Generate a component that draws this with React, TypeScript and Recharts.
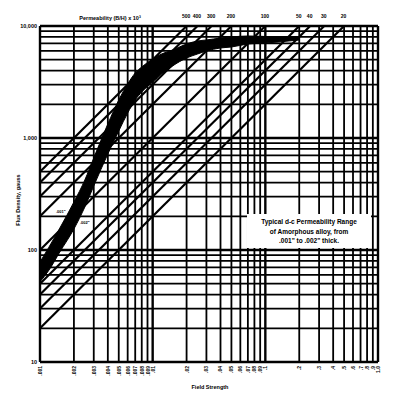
import React from "react";
import { Area, ComposedChart, LabelList, ReferenceLine, Scatter, XAxis, YAxis } from "recharts";

// d-c permeability band of the alloy (field strength in oersteds, flux in gauss)
const fieldStrength = [0.001, 0.0012, 0.0015, 0.002, 0.0025, 0.003, 0.004, 0.005, 0.006, 0.007, 0.008, 0.01, 0.012, 0.015, 0.02, 0.025, 0.03, 0.04, 0.05, 0.07, 0.1, 0.13, 0.2];
const fluxLow = [52, 66, 96, 154, 242, 373, 720, 1155, 1672, 2184, 2575, 3162, 3728, 4395, 5180, 5623, 5980, 6366, 6494, 6907, 7047, 7197, 7500];
const fluxHigh = [78, 106, 157, 268, 422, 663, 1334, 2184, 3034, 3805, 4305, 5075, 5623, 6105, 6907, 7345, 7499, 7815, 7980, 8143, 8062, 7980, 7980];

// constant permeability lines, B/H x 10^3
const permeability = [500, 400, 300, 200, 100, 50, 40, 30, 20];

const gridH = [
  0.001, 0.002, 0.003, 0.004, 0.005, 0.006, 0.007, 0.008, 0.009,
  0.01, 0.02, 0.03, 0.04, 0.05, 0.06, 0.07, 0.08, 0.09,
  0.1, 0.2, 0.3, 0.4, 0.5, 0.6, 0.7, 0.8, 0.9, 1,
];
const hLabels = [
  ".001", ".002", ".003", ".004", ".005", ".006", ".007", ".008", ".009",
  ".01", ".02", ".03", ".04", ".05", ".06", ".07", ".08", ".09",
  ".1", ".2", ".3", ".4", ".5", ".6", ".7", ".8", ".9", "1.0",
];
const gridB = [
  10, 20, 30, 40, 50, 60, 70, 80, 90,
  100, 200, 300, 400, 500, 600, 700, 800, 900,
  1000, 2000, 3000, 4000, 5000, 6000, 7000, 8000, 9000, 10000,
];
const decadesH = [0.001, 0.01, 0.1, 1];
const decadesB = [10, 100, 1000, 10000];
const bLabels = ["10", "100", "1,000", "10,000"];

const FONT = '"Liberation Sans", Arial, sans-serif';

const bandData = fieldStrength.map((h, i) => ({ h, band: [fluxLow[i], fluxHigh[i]] }));
const topLabels = permeability.map((mu) => ({ h: 10 / mu, b: 10000, label: String(mu) }));

function XTick(props: any) {
  const { x, payload } = props;
  const i = gridH.indexOf(payload.value);
  return (
    <text
      x={x + 2}
      y={366}
      transform={`rotate(-90 ${x + 2} 366)`}
      textAnchor="end"
      fontSize={5}
      fontWeight={700}
      fontFamily={FONT}
      fill="#000"
    >
      {hLabels[i]}
    </text>
  );
}

function YTick(props: any) {
  const { y, payload } = props;
  const i = decadesB.indexOf(payload.value);
  if (i < 0) return <g />;
  return (
    <text x={37} y={y + 2} textAnchor="end" fontSize={5.5} fontWeight={700} fontFamily={FONT} fill="#000">
      {bLabels[i]}
    </text>
  );
}

function TopLabel(props: any) {
  const { x, y, value } = props;
  return (
    <text x={x + 4} y={y - 3} textAnchor="middle" fontSize={5} fontWeight={700} fontFamily={FONT} fill="#000">
      {value}
    </text>
  );
}

export default function App() {
  return (
    <div style={{ position: "absolute", left: 0, top: 0, width: 400, height: 401, background: "#fff", fontFamily: FONT }}>
      <ComposedChart width={400} height={401} data={bandData} margin={{ top: 26, right: 22, bottom: 0, left: 0 }}>
        <XAxis
          dataKey="h"
          type="number"
          scale="log"
          domain={[0.001, 1]}
          ticks={gridH}
          interval={0}
          tick={<XTick />}
          tickLine={false}
          axisLine={false}
          height={39}
          allowDataOverflow
        />
        <YAxis
          type="number"
          scale="log"
          domain={[10, 10000]}
          ticks={gridB}
          interval={0}
          tick={<YTick />}
          tickLine={false}
          axisLine={false}
          width={40}
          allowDataOverflow
        />
        {gridH.map((h) => (
          <ReferenceLine key={"gx" + h} x={h} stroke="#000" strokeWidth={decadesH.includes(h) ? 2.4 : 1.8} />
        ))}
        {gridB.map((b) => (
          <ReferenceLine key={"gy" + b} y={b} stroke="#000" strokeWidth={decadesB.includes(b) ? 2.4 : 1.8} />
        ))}
        {permeability.map((mu) => (
          <ReferenceLine
            key={"mu" + mu}
            segment={[
              { x: 0.001, y: mu },
              { x: Math.min(1, 10 / mu), y: 10000 },
            ]}
            stroke="#000"
            strokeWidth={2.2}
          />
        ))}
        <Area dataKey="band" type="monotone" stroke="#000" strokeWidth={1} fill="#000" fillOpacity={1} isAnimationActive={false} />
        <Scatter data={topLabels} dataKey="b" shape={() => <g />} isAnimationActive={false}>
          <LabelList dataKey="label" content={<TopLabel />} />
        </Scatter>
      </ComposedChart>

      <div style={{ position: "absolute", left: 70, top: 15, width: 80, textAlign: "center", fontSize: 5.5, fontWeight: 700, lineHeight: "6px" }}>
        Permeability (B/H) x 10³
      </div>
      <div
        style={{
          position: "absolute",
          left: 18,
          top: 200,
          transform: "translate(-50%, -50%) rotate(-90deg)",
          whiteSpace: "nowrap",
          fontSize: 5.5,
          fontWeight: 700,
        }}
      >
        Flux Density, gauss
      </div>
      <div style={{ position: "absolute", left: 170, top: 384, width: 80, textAlign: "center", fontSize: 5.5, fontWeight: 700 }}>
        Field Strength
      </div>
      <div style={{ position: "absolute", left: 56, top: 209, fontSize: 4, fontWeight: 700 }}>.001"</div>
      <div style={{ position: "absolute", left: 80, top: 220, fontSize: 4, fontWeight: 700 }}>.002"</div>
      <div
        style={{
          position: "absolute",
          left: 247,
          top: 214,
          width: 124,
          height: 34,
          background: "#fff",
          textAlign: "center",
          fontSize: 6.5,
          fontWeight: 700,
          lineHeight: "9.5px",
          paddingTop: 3,
          boxSizing: "border-box",
        }}
      >
        Typical d-c Permeability Range
        <br />
        of Amorphous alloy, from
        <br />
        .001" to .002" thick.
      </div>
    </div>
  );
}
